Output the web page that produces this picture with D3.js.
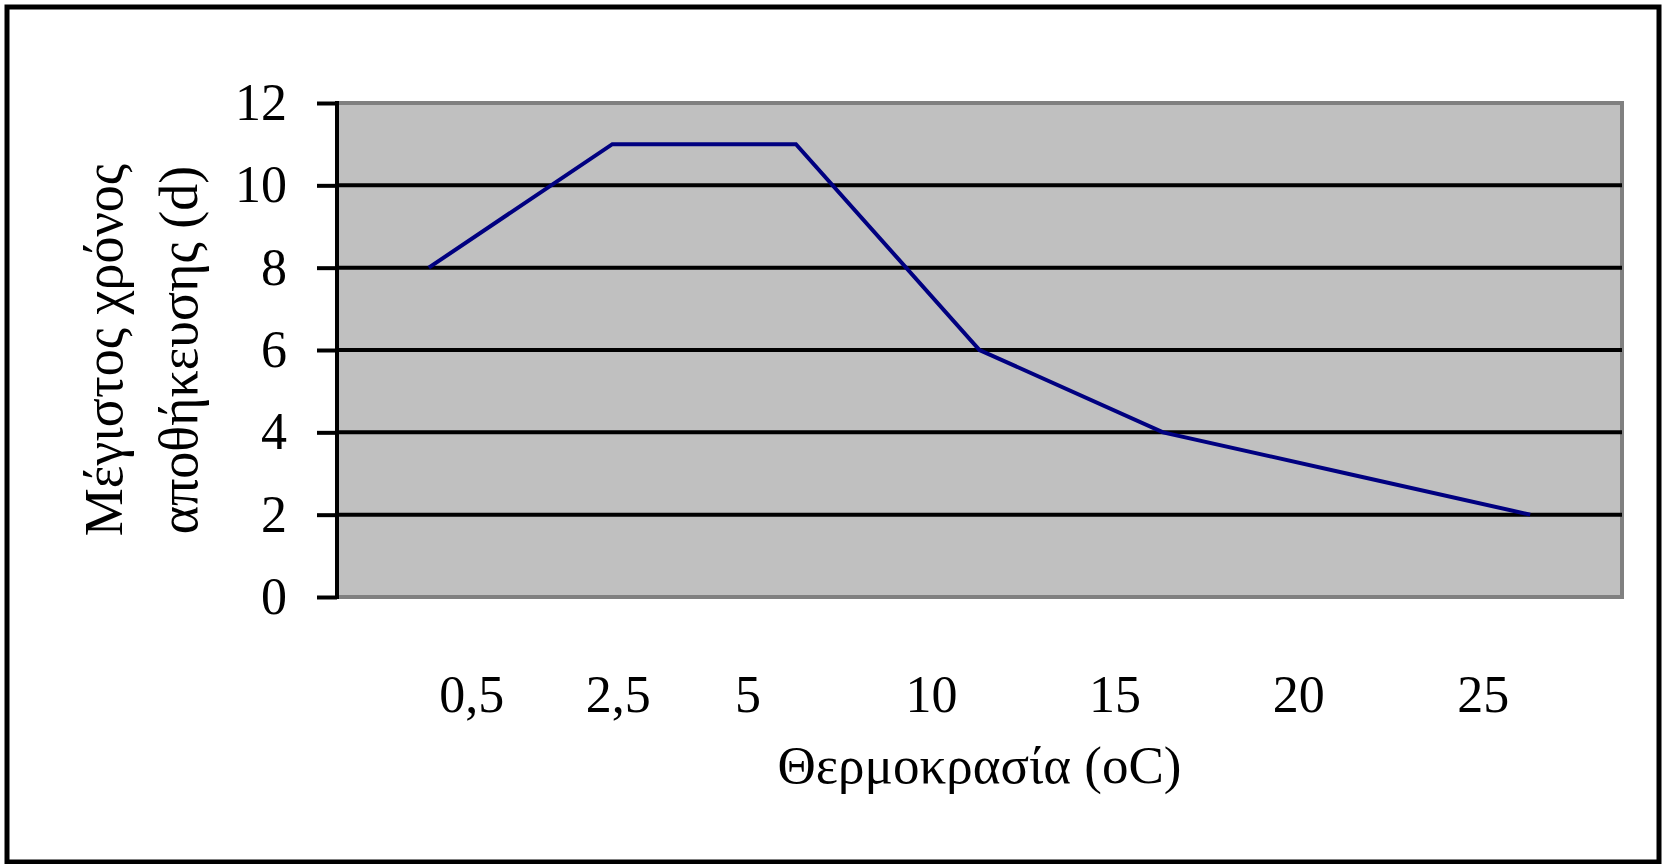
<!DOCTYPE html>
<html>
<head>
<meta charset="utf-8">
<script src="https://cdn.jsdelivr.net/npm/d3@7"></script>
<style>
  body { margin: 0; background: #fff; }
  svg { display: block; }
  text { font-family: "Liberation Serif", "Times New Roman", serif; fill: #000; }
</style>
</head>
<body>
<svg id="chart"></svg>
<script>
// values
const temps = ["0,5", "2,5", "5", "10", "15", "20", "25"];
const days = [8, 11, 11, 6, 4, 3, 2];
const yTicks = [0, 2, 4, 6, 8, 10, 12];

const W = 1662, H = 864;
const plot = {left: 337, top: 103, right: 1622, bottom: 597};
// the category labels in the original don't sit under their points
const labelNudge = [43, 6, -48, -48, -48, -48, -47];

const svg = d3.select("#chart")
  .attr("width", W)
  .attr("height", H);

//outer frame
svg.append("rect")
  .attr("x", 7).attr("y", 7)
  .attr("width", W - 10).attr("height", H - 9)
  .attr("fill", "none")
  .attr("stroke", "#000")
  .attr("stroke-width", 5);

const x = d3.scalePoint()
  .domain(temps)
  .range([plot.left, plot.right])
  .padding(0.5);

const y = d3.scaleLinear()
  .domain([0, 12])
  .range([plot.bottom, plot.top]);

//plot area with grey border
svg.append("rect")
  .attr("x", plot.left).attr("y", plot.top)
  .attr("width", plot.right - plot.left)
  .attr("height", plot.bottom - plot.top)
  .attr("fill", "#c0c0c0")
  .attr("stroke", "#808080")
  .attr("stroke-width", 4);

//gridlines
svg.append("g")
  .selectAll("line")
  .data(yTicks.filter(d => d > 0 && d < 12))
  .enter()
  .append("line")
  .attr("x1", plot.left).attr("x2", plot.right)
  .attr("y1", d => y(d)).attr("y2", d => y(d))
  .attr("stroke", "#000")
  .attr("stroke-width", 4);

//y axis
const yAxis = d3.axisLeft(y)
  .tickValues(yTicks)
  .tickSize(20)
  .tickPadding(30)
  .tickFormat(d3.format("d"));

const yG = svg.append("g")
  .attr("transform", `translate(${plot.left}, 0)`)
  .call(yAxis);
yG.select(".domain").remove();
yG.append("line")
  .attr("x1", 0).attr("x2", 0)
  .attr("y1", y(12) - 2).attr("y2", y(0) + 2)
  .attr("stroke", "#000")
  .attr("stroke-width", 4);
yG.selectAll(".tick line")
  .attr("stroke", "#000")
  .attr("stroke-width", 4);
yG.selectAll(".tick text")
  .attr("font-size", 52)
  .attr("font-family", "Liberation Serif")
  .attr("dy", "0.32em");

//series line
const line = d3.line()
  .x((d, i) => x(temps[i]))
  .y(d => y(d));

svg.append("path")
  .datum(days)
  .attr("d", line)
  .attr("fill", "none")
  .attr("stroke", "#000080")
  .attr("stroke-width", 4);

//category labels
svg.append("g")
  .selectAll("text")
  .data(temps)
  .enter()
  .append("text")
  .attr("x", (d, i) => x(d) + labelNudge[i])
  .attr("y", 712)
  .attr("text-anchor", "middle")
  .attr("font-size", 52)
  .text(d => d);

//axis titles
svg.append("text")
  .attr("x", (plot.left + plot.right) / 2)
  .attr("y", 783)
  .attr("text-anchor", "middle")
  .attr("font-size", 53)
  .text("Θερμοκρασία (oC)");

const yTitle = svg.append("text")
  .attr("transform", `translate(122, ${(plot.top + plot.bottom) / 2}) rotate(-90)`)
  .attr("text-anchor", "middle")
  .attr("font-size", 54);
yTitle.append("tspan")
  .attr("x", 0).attr("y", 0)
  .text("Μέγιστος χρόνος");
yTitle.append("tspan")
  .attr("x", 0).attr("y", 75)
  .text("αποθήκευσης (d)");
</script>
</body>
</html>
